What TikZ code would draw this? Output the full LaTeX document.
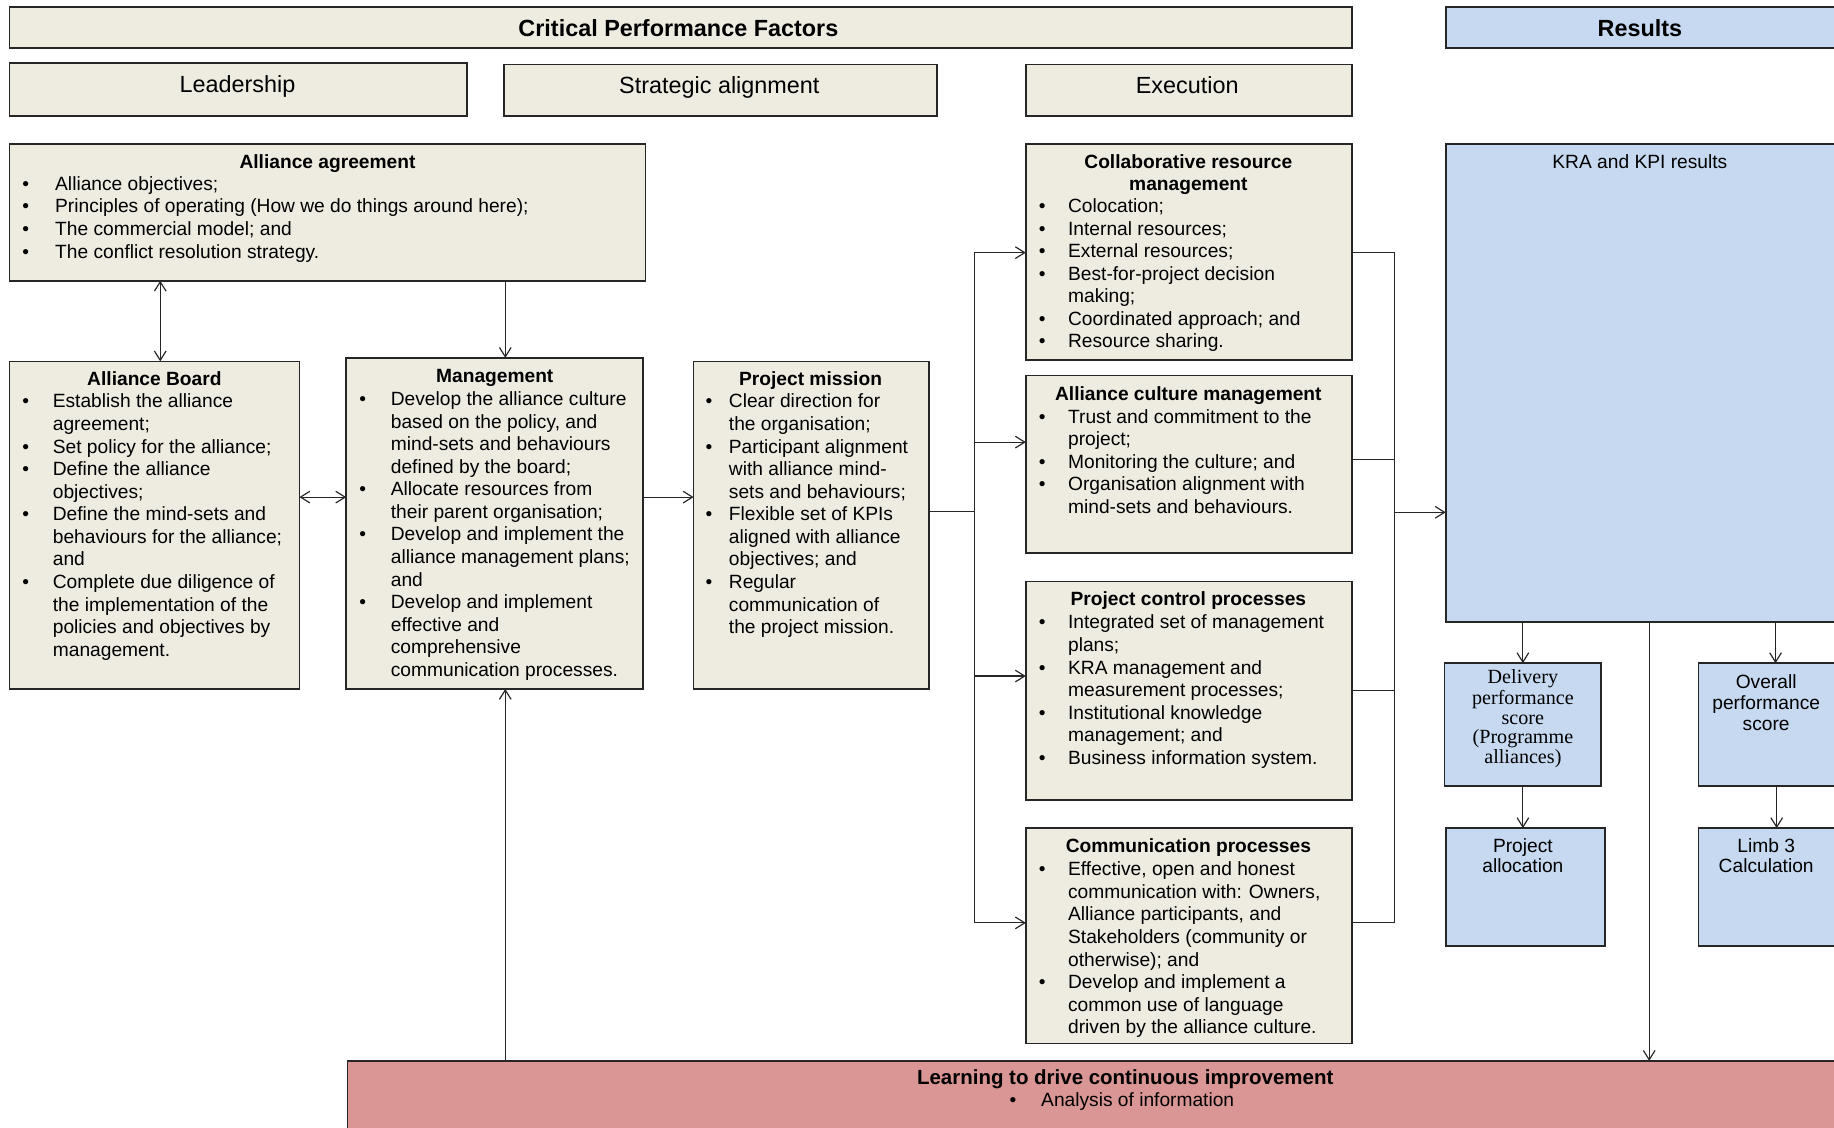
\documentclass[tikz,border=0pt]{standalone}
\usepackage{fontspec}
\setmainfont{Liberation Sans}
\newfontfamily\serifface{Liberation Serif}
\usetikzlibrary{arrows.meta}
\definecolor{beige}{HTML}{EEECE1}
\definecolor{lblue}{HTML}{C6D9F1}
\definecolor{rose}{HTML}{D99694}
\definecolor{edge}{HTML}{262626}
\newlength\bw
\newcommand\bi{\makebox[\bw][l]{\textbullet}}
\newcommand\ci{\hspace*{\bw}}

\begin{document}
\begin{tikzpicture}[x=1pt,y=-1pt,
  box/.style={draw=edge, line width=1.4pt, anchor=north west, inner sep=0, outer sep=0},
  cpf/.style={box, fill=beige},
  res/.style={box, fill=lblue},
  hdr/.style={font=\fontsize{20}{24}\selectfont\bfseries, anchor=base, inner sep=0},
  sub/.style={font=\fontsize{20}{24}\selectfont, anchor=base, inner sep=0},
  ttl/.style={font=\fontsize{16.4}{19.3}\selectfont\bfseries, align=center, anchor=north, inner sep=0},
  ctr/.style={font=\fontsize{16.4}{19.3}\selectfont, align=center, anchor=north, inner sep=0},
  body/.style={font=\fontsize{16.4}{19.3}\selectfont, align=left, anchor=north west, inner sep=0},
  bul/.code={\global\bw=#1pt},
  conn/.style={draw=edge, line width=1pt},
  arr/.style={conn, -{Straight Barb[length=8pt,width=10pt]}},
  dbl/.style={conn, {Straight Barb[length=8pt,width=10pt]}-{Straight Barb[length=8pt,width=10pt]}},
]
\useasboundingbox (0,0) rectangle (1568,964);
\fill[white] (0,0) rectangle (1568,964);
\clip (0,0) rectangle (1568,964);

% ---- header row ----
\node[cpf, minimum width=1148, minimum height=35] (cpfbox) at (8,6) {};
\node[res, minimum width=360, minimum height=35] (resbox) at (1236,6) {};
\node[hdr] (cpfT) at (580,31) {Critical Performance Factors};
\node[hdr] (resT) at (1402,31) {Results};

\node[cpf, minimum width=391, minimum height=45] (lead) at (8,54) {};
\node[cpf, minimum width=370, minimum height=44] (strat) at (431,55) {};
\node[cpf, minimum width=279, minimum height=44] (exec) at (877,55) {};
\node[sub] (leadT) at (203,79) {Leadership};
\node[sub] (stratT) at (615,80) {Strategic alignment};
\node[sub] (execT) at (1015,80) {Execution};

% ---- leadership column ----
\node[cpf, minimum width=544, minimum height=117] (agree) at (8,123) {};
\node[ttl] (agreeT) at (280,130) {\strut Alliance agreement};
\node[body, bul=28] (agreeB) at (19,149) {\strut\bi Alliance objectives;\\
\bi Principles of operating (How we do things around here);\\
\bi The commercial model; and\\
\bi The conflict resolution strategy.};

\node[cpf, minimum width=248, minimum height=280] (board) at (8,309) {};
\node[ttl] (boardT) at (132,316) {\strut Alliance Board};
\node[body, bul=26] (boardB) at (19,335) {\strut\bi Establish the alliance\\
\ci agreement;\\
\bi Set policy for the alliance;\\
\bi Define the alliance\\
\ci objectives;\\
\bi Define the mind-sets and\\
\ci behaviours for the alliance;\\
\ci and\\
\bi Complete due diligence of\\
\ci the implementation of the\\
\ci policies and objectives by\\
\ci management.};

\node[cpf, minimum width=254, minimum height=283] (mgmt) at (296,306) {};
\node[ttl] (mgmtT) at (423,313) {\strut Management};
\node[body, bul=27] (mgmtB) at (307,333) {\strut\bi Develop the alliance culture\\
\ci based on the policy, and\\
\ci mind-sets and behaviours\\
\ci defined by the board;\\
\bi Allocate resources from\\
\ci their parent organisation;\\
\bi Develop and implement the\\
\ci alliance management plans;\\
\ci and\\
\bi Develop and implement\\
\ci effective and\\
\ci comprehensive\\
\ci communication processes.};

% ---- strategic alignment column ----
\node[cpf, minimum width=201, minimum height=280] (mission) at (593,309) {};
\node[ttl] (missionT) at (693,316) {\strut Project mission};
\node[body, bul=20] (missionB) at (603,335) {\strut\bi Clear direction for\\
\ci the organisation;\\
\bi Participant alignment\\
\ci with alliance mind-\\
\ci sets and behaviours;\\
\bi Flexible set of KPIs\\
\ci aligned with alliance\\
\ci objectives; and\\
\bi Regular\\
\ci communication of\\
\ci the project mission.};

% ---- execution column ----
\node[cpf, minimum width=279, minimum height=185] (collab) at (877,123) {};
\node[ttl] (collabT) at (1016,130) {\strut Collaborative resource\\management};
\node[body, bul=25] (collabB) at (888,168) {\strut\bi Colocation;\\
\bi Internal resources;\\
\bi External resources;\\
\bi Best-for-project decision\\
\ci making;\\
\bi Coordinated approach; and\\
\bi Resource sharing.};

\node[cpf, minimum width=279, minimum height=152] (culture) at (877,321) {};
\node[ttl] (cultureT) at (1016,329) {\strut Alliance culture management};
\node[body, bul=25] (cultureB) at (888,348) {\strut\bi Trust and commitment to the\\
\ci project;\\
\bi Monitoring the culture; and\\
\bi Organisation alignment with\\
\ci mind-sets and behaviours.};

\node[cpf, minimum width=279, minimum height=187] (control) at (877,497) {};
\node[ttl] (controlT) at (1016,504) {\strut Project control processes};
\node[body, bul=25] (controlB) at (888,524) {\strut\bi Integrated set of management\\
\ci plans;\\
\bi KRA management and\\
\ci measurement processes;\\
\bi Institutional knowledge\\
\ci management; and\\
\bi Business information system.};

\node[cpf, minimum width=279, minimum height=184] (comm) at (877,708) {};
\node[ttl] (commT) at (1016,715) {\strut Communication processes};
\node[body, bul=25] (commB) at (888,735) {\strut\bi Effective, open and honest\\
\ci communication with: Owners,\\
\ci Alliance participants, and\\
\ci Stakeholders (community or\\
\ci otherwise); and\\
\bi Develop and implement a\\
\ci common use of language\\
\ci driven by the alliance culture.};

% ---- results column ----
\node[res, minimum width=360, minimum height=409] (kra) at (1236,123) {};
\node[ctr] (kraT) at (1402,130) {\strut KRA and KPI results};

\node[res, minimum width=134, minimum height=105] (deliv) at (1235,567) {};
\node[ctr, font=\serifface\fontsize{17.2}{16.8}\selectfont] (delivT) at (1302,572)
  {\strut Delivery\\performance\\score\\(Programme\\alliances)};
\node[res, minimum width=140, minimum height=105] (overall) at (1452,567) {};
\node[ctr, font=\fontsize{16.4}{18}\selectfont] (overallT) at (1510,576)
  {\strut Overall\\performance\\score};
\node[res, minimum width=136, minimum height=101] (alloc) at (1236,708) {};
\node[ctr, font=\fontsize{16.4}{17}\selectfont] (allocT) at (1302,717)
  {\strut Project\\allocation};
\node[res, minimum width=140, minimum height=101] (limb) at (1452,708) {};
\node[ctr, font=\fontsize{16.4}{17}\selectfont] (limbT) at (1510,717)
  {\strut Limb 3\\Calculation};

% ---- learning band ----
\node[box, fill=rose, minimum width=1300, minimum height=80] (learn) at (297,907) {};
\node[hdr, font=\fontsize{17.5}{21}\selectfont\bfseries] (learnT) at (962,927)
  {Learning to drive continuous improvement};
\node[body, bul=27] (learnB) at (863,932) {\strut\bi Analysis of information};

% ---- connectors ----
\draw[dbl] ([xshift=5pt]board.north) -- ([xshift=5pt]board.north |- agree.south);
\draw[arr] (agree.south -| 432,0) -- (mgmt.north -| 432,0);
\draw[dbl] (board.east |- 0,425) -- (mgmt.west |- 0,425);
\draw[arr] (mgmt.east |- 0,425) -- (mission.west |- 0,425);

\coordinate (lbus) at (833,437);
\coordinate (rbus) at (1192,438);
\draw[conn] (mission.east |- lbus) -- (lbus);
\draw[arr] (lbus) |- (collab.west |- 0,216);
\draw[arr] (lbus) |- (culture.west |- 0,378);
\draw[arr] (lbus) |- (control.west |- 0,578);
\draw[arr] (lbus) |- (comm.west |- 0,789);
\draw[conn] (collab.east |- 0,216) -| (rbus);
\draw[conn] (culture.east |- 0,393) -| (rbus);
\draw[conn] (control.east |- 0,590) -| (rbus);
\draw[conn] (comm.east |- 0,789) -| (rbus);
\draw[arr] (rbus) -- (kra.west |- rbus);

\draw[arr] (kra.south -| deliv.north) -- (deliv.north);
\draw[arr] (kra.south -| 1518,0) -- (overall.north -| 1518,0);
\draw[arr] (deliv.south) -- (alloc.north -| deliv.south);
\draw[arr] (overall.south -| 1519,0) -- (limb.north -| 1519,0);
\draw[arr] (kra.south -| 1410,0) -- (learn.north -| 1410,0);
\draw[arr] (learn.north -| 432,0) -- (mgmt.south -| 432,0);
\end{tikzpicture}
\end{document}
